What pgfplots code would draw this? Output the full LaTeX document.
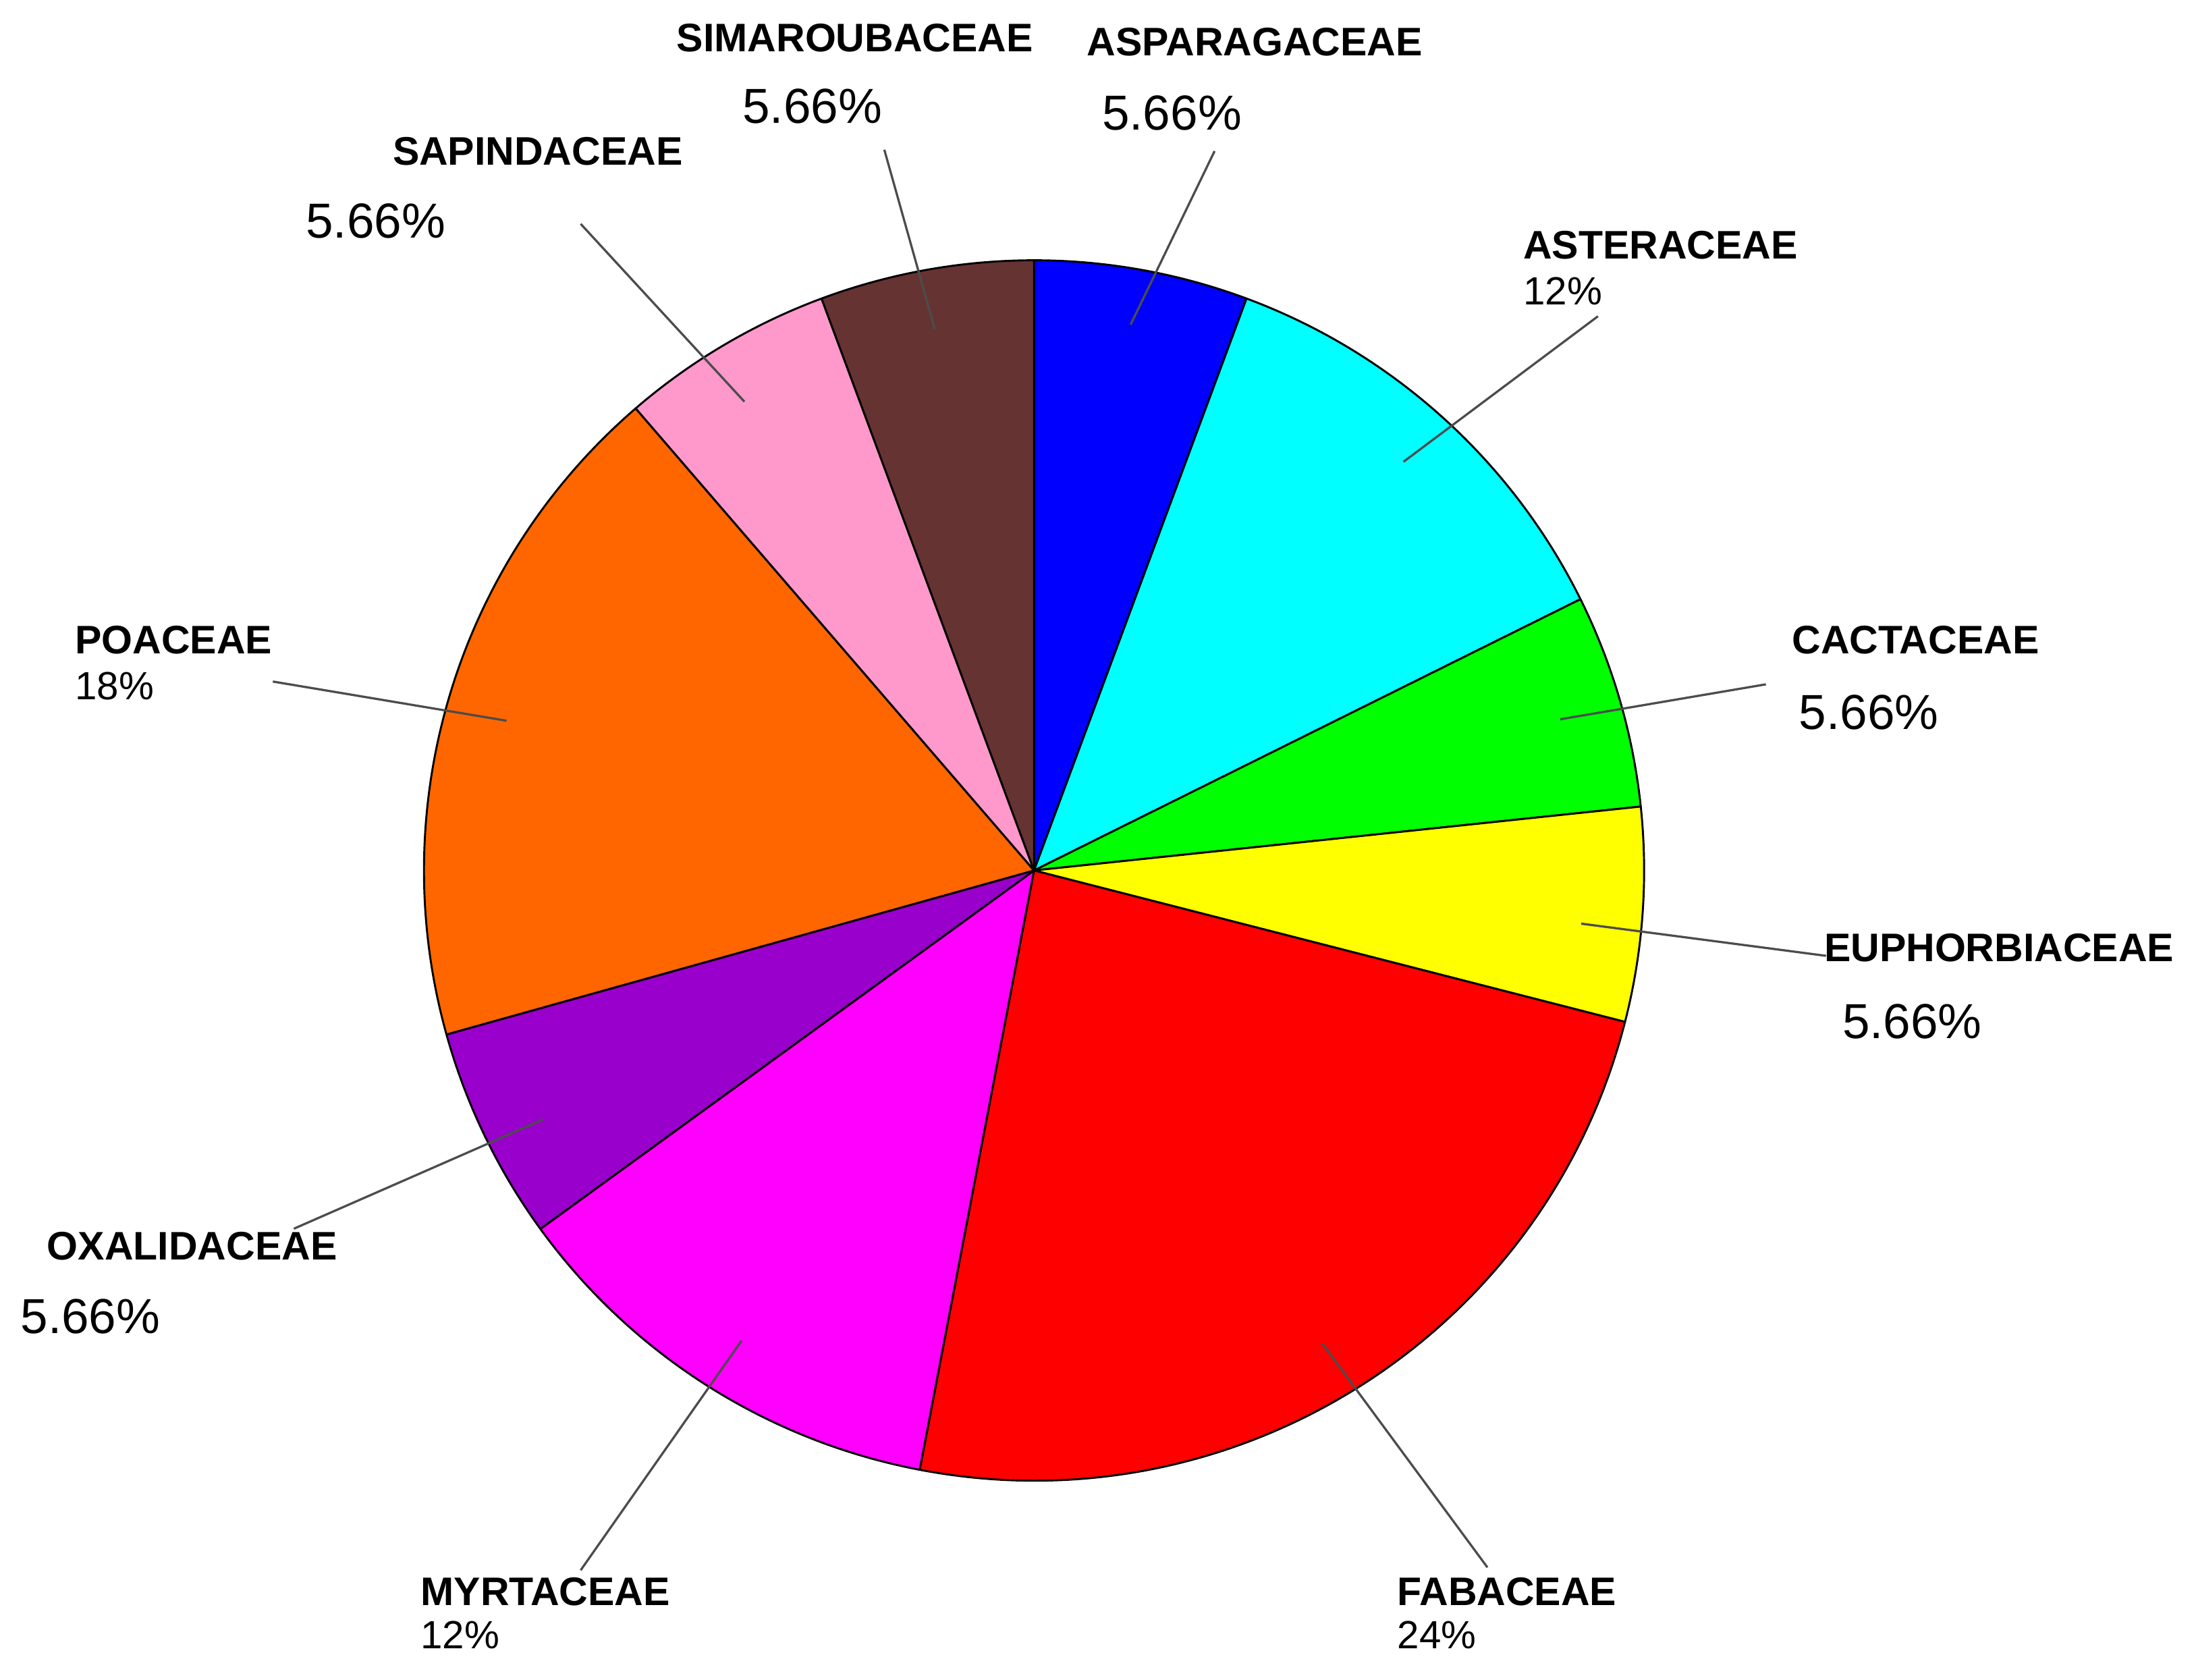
\documentclass[border=0pt]{standalone}
\usepackage{pgfplots}
\usepackage{pgfplotstable}
\pgfplotsset{compat=1.18}
\usepackage{fontspec}
\setmainfont{Liberation Sans}

\definecolor{famBlue}{RGB}{0,0,255}
\definecolor{famCyan}{RGB}{0,255,255}
\definecolor{famGreen}{RGB}{0,255,0}
\definecolor{famYellow}{RGB}{255,255,0}
\definecolor{famRed}{RGB}{255,0,0}
\definecolor{famMagenta}{RGB}{255,0,255}
\definecolor{famPurple}{RGB}{153,0,204}
\definecolor{famOrange}{RGB}{255,102,0}
\definecolor{famPink}{RGB}{255,153,204}
\definecolor{famBrown}{RGB}{102,51,51}

% share of species per family, clockwise from 12 o'clock
\pgfplotstableread{
name          value color
ASPARAGACEAE  5.66  famBlue
ASTERACEAE    12    famCyan
CACTACEAE     5.66  famGreen
EUPHORBIACEAE 5.66  famYellow
FABACEAE      24    famRed
MYRTACEAE     12    famMagenta
OXALIDACEAE   5.66  famPurple
POACEAE       18    famOrange
SAPINDACEAE   5.66  famPink
SIMAROUBACEAE 5.66  famBrown
}\pietable

% total and start/end angle of each slice
\def\total{0}%
\pgfplotsforeachungrouped \i in {0,...,9}{%
  \pgfplotstablegetelem{\i}{value}\of\pietable
  \pgfmathsetmacro\total{\total+\pgfplotsretval}%
}%
\def\cur{90}%
\pgfplotsforeachungrouped \i in {0,...,9}{%
  \pgfplotstablegetelem{\i}{value}\of\pietable
  \pgfmathsetmacro\nxt{\cur-\pgfplotsretval/\total*360}%
  \expandafter\xdef\csname aS\i\endcsname{\cur}%
  \expandafter\xdef\csname aE\i\endcsname{\nxt}%
  \pgfplotstablegetelem{\i}{color}\of\pietable
  \expandafter\xdef\csname cl\i\endcsname{\pgfplotsretval}%
  \global\let\cur=\nxt
}%

\def\cx{739}
\def\cy{578}
\def\rr{436}

\newcommand{\nm}{\fontsize{8.1}{9.7}\selectfont\bfseries}
\newcommand{\pb}{\fontsize{10}{12}\selectfont}
\newcommand{\ps}{\fontsize{8}{9.6}\selectfont}

\begin{document}
\begin{tikzpicture}
\begin{axis}[
  hide axis,
  scale only axis,
  width=15.68cm, height=12cm,
  xmin=0, xmax=1568, ymin=0, ymax=1200,
  clip=false,
]
  \path (axis cs:0,0) rectangle (axis cs:1568,1200);

  % slices
  \pgfplotsinvokeforeach{0,...,9}{
    \filldraw[fill=\csname cl#1\endcsname, draw=black, line width=0.4pt, line join=round]
      (axis cs:\cx,\cy)
      -- (axis cs:{\cx+\rr*cos(\csname aS#1\endcsname)},{\cy+\rr*sin(\csname aS#1\endcsname)})
      arc[start angle=\csname aS#1\endcsname, end angle=\csname aE#1\endcsname, radius=4.36cm]
      -- cycle;
  }

  % leader lines
  \begin{scope}[draw=black!70, line width=0.45pt]
    \draw (axis cs:808,968)  -- (axis cs:868,1092);
    \draw (axis cs:1003,870) -- (axis cs:1142,974);
    \draw (axis cs:1115,686) -- (axis cs:1262,711);
    \draw (axis cs:1130,540) -- (axis cs:1305,517);
    \draw (axis cs:945,240)  -- (axis cs:1063,80);
    \draw (axis cs:530,242)  -- (axis cs:415,78);
    \draw (axis cs:388,400)  -- (axis cs:210,322);
    \draw (axis cs:362,685)  -- (axis cs:195,713);
    \draw (axis cs:532,913)  -- (axis cs:415,1040);
    \draw (axis cs:668,965)  -- (axis cs:632,1093);
  \end{scope}

  % labels
  \begin{scope}[every node/.style={inner sep=0pt, anchor=base west}]
    \node at (axis cs:776,1160) {\nm ASPARAGACEAE};
    \node at (axis cs:787,1107) {\pb 5.66\%};
    \node at (axis cs:1088,1015) {\nm ASTERACEAE};
    \node at (axis cs:1088,982) {\ps 12\%};
    \node at (axis cs:1280,733) {\nm CACTACEAE};
    \node at (axis cs:1285,679) {\pb 5.66\%};
    \node at (axis cs:1303,513) {\nm EUPHORBIACEAE};
    \node at (axis cs:1316,458) {\pb 5.66\%};
    \node at (axis cs:998,53) {\nm FABACEAE};
    \node at (axis cs:998,22) {\ps 24\%};
    \node at (axis cs:300,53) {\nm MYRTACEAE};
    \node at (axis cs:300,22) {\ps 12\%};
    \node at (axis cs:33,300) {\nm OXALIDACEAE};
    \node at (axis cs:14,247) {\pb 5.66\%};
    \node at (axis cs:53,733) {\nm POACEAE};
    \node at (axis cs:53,700) {\ps 18\%};
    \node at (axis cs:280,1082) {\nm SAPINDACEAE};
    \node at (axis cs:218,1030) {\pb 5.66\%};
    \node at (axis cs:483,1163) {\nm SIMAROUBACEAE};
    \node at (axis cs:530,1112) {\pb 5.66\%};
  \end{scope}
\end{axis}
\end{tikzpicture}
\end{document}
